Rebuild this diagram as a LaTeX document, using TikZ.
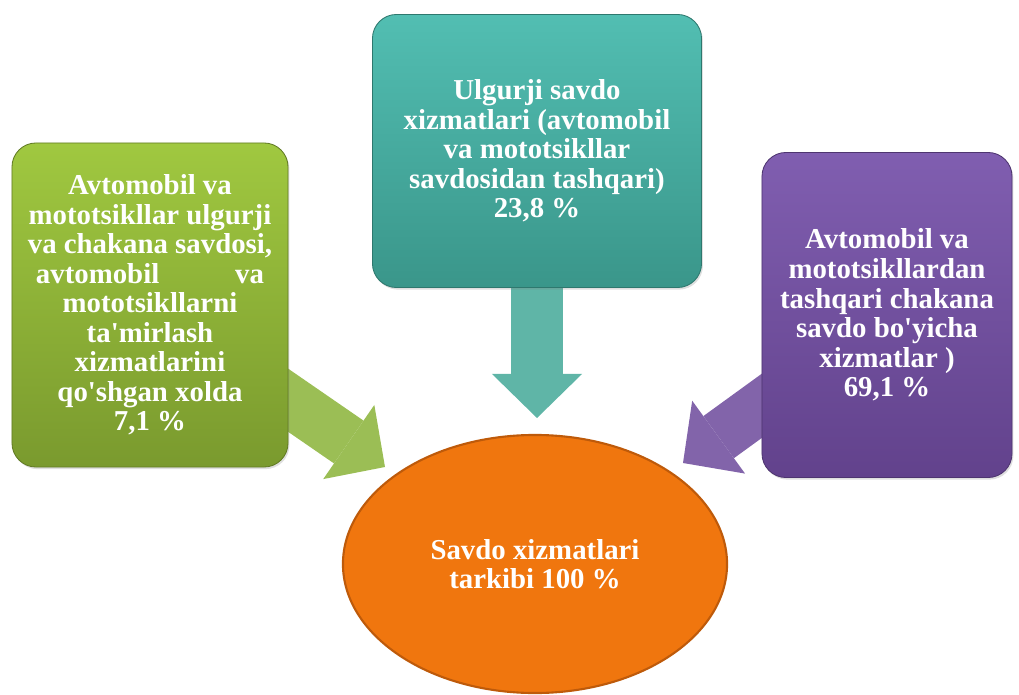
\documentclass[tikz,border=0pt]{standalone}
\usepackage{fontspec}
\setmainfont{Liberation Serif}
\usepackage{tikz}
\usetikzlibrary{positioning}
\usetikzlibrary{shapes.geometric}
\usetikzlibrary{arrows.meta}
\usetikzlibrary{backgrounds}
\usetikzlibrary{shadows}

\definecolor{oliveTop}{RGB}{160,200,64}
\definecolor{oliveBot}{RGB}{122,154,46}
\definecolor{oliveArrow}{RGB}{155,190,85}
\definecolor{tealTop}{RGB}{82,190,178}
\definecolor{tealBot}{RGB}{58,150,138}
\definecolor{tealArrow}{RGB}{95,181,167}
\definecolor{violetTop}{RGB}{128,94,176}
\definecolor{violetBot}{RGB}{98,66,140}
\definecolor{violetArrow}{RGB}{130,100,170}
\definecolor{sumFill}{RGB}{240,118,14}
\definecolor{sumEdge}{RGB}{190,90,10}

\begin{document}
\begin{tikzpicture}[x=0.025cm, y=-0.025cm,
  box/.style={rounded corners=0.6cm, draw=#1Bot!80!black, line width=0.6pt,
    top color=#1Top, bottom color=#1Bot, text=white, align=center, inner sep=0pt,
    drop shadow={opacity=0.25, shadow xshift=1pt, shadow yshift=-1.5pt},
    font=\fontsize{20.5}{21}\selectfont\bfseries},
  flow/.style={draw=#1Arrow, line width=1.3cm,
    -{Triangle[length=1.1cm, width=2.25cm, line width=0pt]}}]
  \useasboundingbox (0,0) rectangle (1019,695);

  % boxes
  \node[box=olive, minimum width=6.9cm, minimum height=8.1cm] (retail) at (150,305)
    {Avtomobil va\\ mototsikllar ulgurji\\ va chakana savdosi,\\
     \makebox[5.7cm][s]{avtomobil va}\\ mototsikllarni\\ ta\textquotesingle mirlash\\
     xizmatlarini\\ qo\textquotesingle shgan xolda\\ 7,1 \%};
  \node[box=teal, minimum width=8.225cm, minimum height=6.825cm] (wholesale) at (537,151)
    {Ulgurji savdo\\ xizmatlari (avtomobil\\ va mototsikllar\\ savdosidan tashqari)\\ 23,8 \%};
  \node[box=violet, minimum width=6.25cm, minimum height=8.125cm] (other) at (887,315)
    {Avtomobil va\\ mototsikllardan\\ tashqari chakana\\ savdo bo\textquotesingle yicha\\ xizmatlar )\\ 69,1 \%};

  % total
  \node[ellipse, fill=sumFill, draw=sumEdge, line width=1.5pt, inner sep=0pt,
    minimum width=9.6cm, minimum height=6.45cm, text=white, align=center,
    font=\fontsize{20.5}{21}\selectfont\bfseries] (sum) at (535,564)
    {Savdo xizmatlari\\ tarkibi 100 \%};

  \coordinate (tipL) at (385,467);
  \coordinate (tipT) at (537,418);
  \coordinate (tipR) at (683,463);

  % arrows
  \begin{scope}[on background layer]
    \draw[flow=olive] (retail.center) -- (tipL);
    \draw[flow=teal] (wholesale.center) -- (tipT);
    \draw[flow=violet] (other.center) -- (tipR);
  \end{scope}
\end{tikzpicture}
\end{document}
